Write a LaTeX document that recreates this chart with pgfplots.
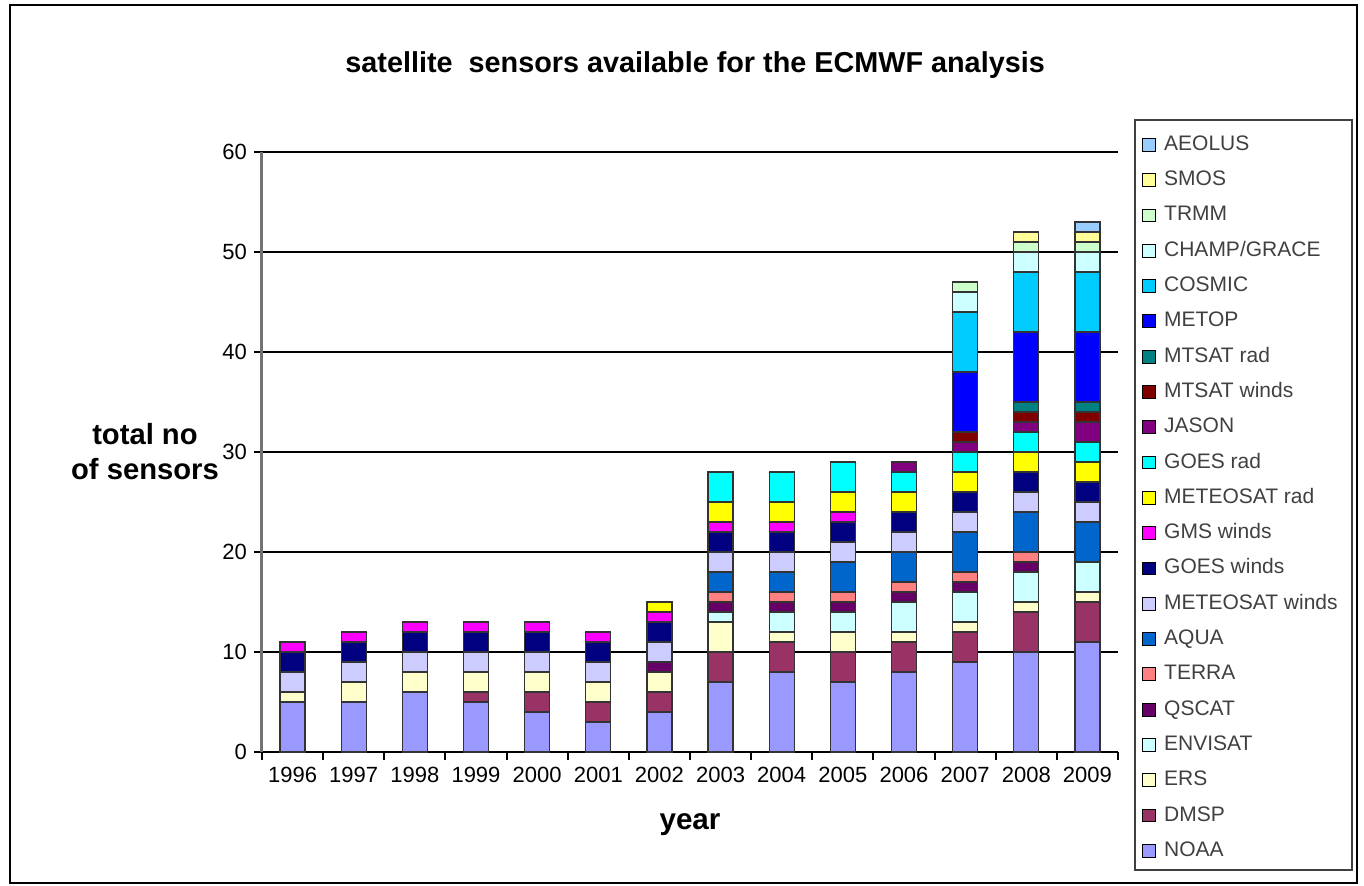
\documentclass[border=0pt]{standalone}
\usepackage{pgfplots}
\usepackage{pgfplotstable}
\pgfplotsset{compat=1.18}
\usepackage{fontspec}
\setmainfont{Liberation Sans}

\definecolor{cNOAA}{HTML}{9999FF}
\definecolor{cDMSP}{HTML}{993366}
\definecolor{cERS}{HTML}{FFFFCC}
\definecolor{cENV}{HTML}{CCFFFF}
\definecolor{cQSCAT}{HTML}{660066}
\definecolor{cTERRA}{HTML}{FF8080}
\definecolor{cAQUA}{HTML}{0066CC}
\definecolor{cMETW}{HTML}{CCCCFF}
\definecolor{cGOESW}{HTML}{000080}
\definecolor{cGMSW}{HTML}{FF00FF}
\definecolor{cMETR}{HTML}{FFFF00}
\definecolor{cGOESR}{HTML}{00FFFF}
\definecolor{cJASON}{HTML}{800080}
\definecolor{cMTW}{HTML}{800000}
\definecolor{cMTR}{HTML}{008080}
\definecolor{cMETOP}{HTML}{0000FF}
\definecolor{cCOSMIC}{HTML}{00CCFF}
\definecolor{cCHAMP}{HTML}{CCFFFF}
\definecolor{cTRMM}{HTML}{CCFFCC}
\definecolor{cSMOS}{HTML}{FFFF99}
\definecolor{cAEOLUS}{HTML}{99CCFF}

% year index 0 = 1996 ... 13 = 2009
\pgfplotstableread{
x noaa dmsp ers envisat qscat terra aqua metw goesw gmsw metr goesr jason mtw mtr metop cosmic champ trmm smos aeolus
0  5  0 1 0 0 0 0 2 2 1 0 0 0 0 0 0 0 0 0 0 0
1  5  0 2 0 0 0 0 2 2 1 0 0 0 0 0 0 0 0 0 0 0
2  6  0 2 0 0 0 0 2 2 1 0 0 0 0 0 0 0 0 0 0 0
3  5  1 2 0 0 0 0 2 2 1 0 0 0 0 0 0 0 0 0 0 0
4  4  2 2 0 0 0 0 2 2 1 0 0 0 0 0 0 0 0 0 0 0
5  3  2 2 0 0 0 0 2 2 1 0 0 0 0 0 0 0 0 0 0 0
6  4  2 2 0 1 0 0 2 2 1 1 0 0 0 0 0 0 0 0 0 0
7  7  3 3 1 1 1 2 2 2 1 2 3 0 0 0 0 0 0 0 0 0
8  8  3 1 2 1 1 2 2 2 1 2 3 0 0 0 0 0 0 0 0 0
9  7  3 2 2 1 1 3 2 2 1 2 3 0 0 0 0 0 0 0 0 0
10 8  3 1 3 1 1 3 2 2 0 2 2 1 0 0 0 0 0 0 0 0
11 9  3 1 3 1 1 4 2 2 0 2 2 1 1 0 6 6 2 1 0 0
12 10 4 1 3 1 1 4 2 2 0 2 2 1 1 1 7 6 2 1 1 0
13 11 4 1 3 0 0 4 2 2 0 2 2 2 1 1 7 6 2 1 1 1
}\sensors

\begin{document}
\begin{tikzpicture}
\begin{axis}[
    width=428pt, height=300pt, scale only axis,
    clip=false,
    xmin=-0.5, xmax=13.5, ymin=0, ymax=60,
    ybar stacked, bar width=12.5pt,
    every axis plot/.append style={draw=black!80, line width=0.6pt},
    xtick={-0.5,0.5,...,13.5},
    xticklabels={1996,1997,1998,1999,2000,2001,2002,2003,2004,2005,2006,2007,2008,2009},
    x tick label as interval,
    ytick={0,10,...,60},
    ymajorgrids, grid style={black, line width=0.6pt},
    axis x line*=bottom, axis y line*=left,
    x axis line style={black, line width=1.2pt},
    y axis line style={black!55, line width=1.5pt},
    tick align=outside, major tick length=4pt,
    tick style={black, line width=1pt},
    tick label style={font=\fontsize{11}{13}\selectfont},
    /pgf/number format/assume math mode=true,
    reverse legend,
    legend cell align=left,
    legend image code/.code={\draw[#1, draw=black, line width=0.5pt] (0pt,-3.2pt) rectangle (6.4pt,3.2pt);},
    legend style={draw=none, fill=none, at={(1.028,1.03)}, anchor=north west,
        font=\fontsize{10.5}{12}\selectfont\color{black!75},
        inner sep=0pt, row sep=7.15pt, column sep=4pt,
        nodes={inner sep=0pt, text height=8pt, text depth=2.5pt}},
]
\addplot[fill=cNOAA]   table[x=x,y=noaa]{\sensors};    \addlegendentry{NOAA}
\addplot[fill=cDMSP]   table[x=x,y=dmsp]{\sensors};    \addlegendentry{DMSP}
\addplot[fill=cERS]    table[x=x,y=ers]{\sensors};     \addlegendentry{ERS}
\addplot[fill=cENV]    table[x=x,y=envisat]{\sensors}; \addlegendentry{ENVISAT}
\addplot[fill=cQSCAT]  table[x=x,y=qscat]{\sensors};   \addlegendentry{QSCAT}
\addplot[fill=cTERRA]  table[x=x,y=terra]{\sensors};   \addlegendentry{TERRA}
\addplot[fill=cAQUA]   table[x=x,y=aqua]{\sensors};    \addlegendentry{AQUA}
\addplot[fill=cMETW]   table[x=x,y=metw]{\sensors};    \addlegendentry{METEOSAT winds}
\addplot[fill=cGOESW]  table[x=x,y=goesw]{\sensors};   \addlegendentry{GOES winds}
\addplot[fill=cGMSW]   table[x=x,y=gmsw]{\sensors};    \addlegendentry{GMS winds}
\addplot[fill=cMETR]   table[x=x,y=metr]{\sensors};    \addlegendentry{METEOSAT rad}
\addplot[fill=cGOESR]  table[x=x,y=goesr]{\sensors};   \addlegendentry{GOES rad}
\addplot[fill=cJASON]  table[x=x,y=jason]{\sensors};   \addlegendentry{JASON}
\addplot[fill=cMTW]    table[x=x,y=mtw]{\sensors};     \addlegendentry{MTSAT winds}
\addplot[fill=cMTR]    table[x=x,y=mtr]{\sensors};     \addlegendentry{MTSAT rad}
\addplot[fill=cMETOP]  table[x=x,y=metop]{\sensors};   \addlegendentry{METOP}
\addplot[fill=cCOSMIC] table[x=x,y=cosmic]{\sensors};  \addlegendentry{COSMIC}
\addplot[fill=cCHAMP]  table[x=x,y=champ]{\sensors};   \addlegendentry{CHAMP/GRACE}
\addplot[fill=cTRMM]   table[x=x,y=trmm]{\sensors};    \addlegendentry{TRMM}
\addplot[fill=cSMOS]   table[x=x,y=smos]{\sensors};    \addlegendentry{SMOS}
\addplot[fill=cAEOLUS] table[x=x,y=aeolus]{\sensors};  \addlegendentry{AEOLUS}

\node[font=\bfseries\fontsize{14.4}{17}\selectfont] at (axis description cs:0.506,1.145)
    {satellite\ \ sensors available for the ECMWF analysis};
\node[font=\bfseries\fontsize{14.6}{17.5}\selectfont, align=center] at (axis description cs:-0.1367,0.5)
    {total no\\of sensors};
\node[font=\bfseries\fontsize{14.8}{17}\selectfont] at (axis description cs:0.5,-0.1217) {year};
% legend frame and outer chart frame
\draw[black!75, line width=0.8pt] (axis description cs:1.0199,1.0533) rectangle (axis description cs:1.2734,-0.1967);
\draw[black, line width=0.8pt] (axis description cs:-0.2944,1.245) rectangle (axis description cs:1.2792,-0.2183);
\end{axis}
\pgfresetboundingbox
\path[use as bounding box] (-131pt,-67pt) rectangle (551pt,376pt);
\end{tikzpicture}
\end{document}
